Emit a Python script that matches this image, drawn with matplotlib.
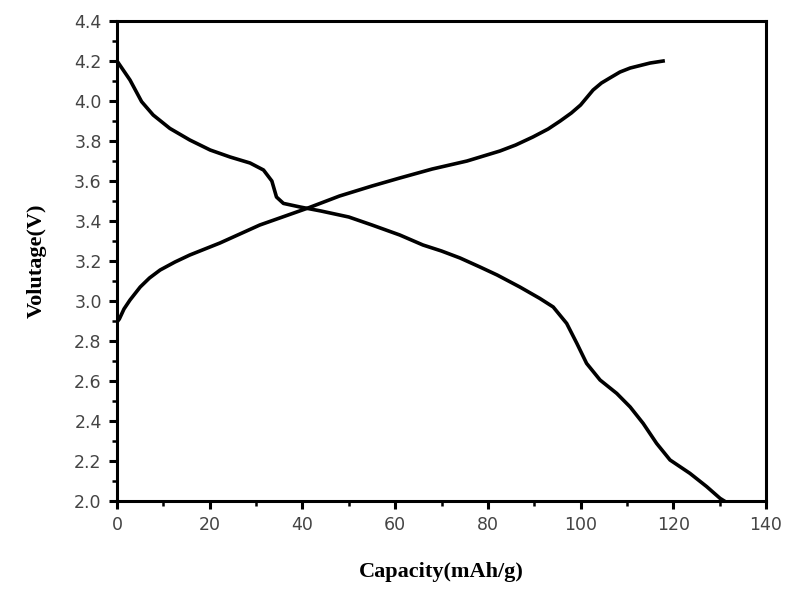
import matplotlib.pyplot as plt
from matplotlib.ticker import MultipleLocator

# charge curve (rising)
charge_cap = [0, 0.5, 1.5, 2.8, 5, 7, 9.3, 12.5, 15.7, 22.2, 30.8, 41.2, 48, 55, 61,
              68, 75.5, 82.6, 86, 89.7, 93, 95.6, 98, 100, 102.7, 104.5, 106.3,
              108.5, 110.7, 115, 117.8]
charge_v = [2.895, 2.91, 2.96, 3.005, 3.07, 3.115, 3.155, 3.195, 3.23, 3.29, 3.38,
            3.465, 3.525, 3.575, 3.615, 3.66, 3.70, 3.75, 3.78, 3.82, 3.86, 3.90,
            3.94, 3.98, 4.055, 4.09, 4.115, 4.145, 4.165, 4.19, 4.20]

# discharge curve (falling)
dis_cap = [0, 0.3, 2.8, 5.3, 7.8, 11.4, 15.7, 20.1, 24.4, 28.7, 31.6, 33.4, 34.4,
           35.9, 39.5, 44, 50, 55, 61, 66, 70, 74, 78.3, 82, 86.9, 91.2, 94.1, 97,
           99.2, 101.3, 104.2, 107.8, 110.7, 113.5, 116.4, 119.3, 123.6, 127.2,
           130.1, 131]
dis_v = [4.20, 4.19, 4.105, 3.997, 3.93, 3.863, 3.805, 3.755, 3.72, 3.69, 3.655,
         3.60, 3.52, 3.488, 3.47, 3.45, 3.42, 3.38, 3.33, 3.28, 3.25, 3.215, 3.17,
         3.13, 3.07, 3.013, 2.97, 2.888, 2.788, 2.688, 2.605, 2.538, 2.47, 2.388,
         2.288, 2.205, 2.138, 2.072, 2.013, 2.0]

fig = plt.figure(figsize=(7.87, 5.94), dpi=100)
ax = fig.add_axes([0.1487, 0.1566, 0.8246, 0.808])

ax.plot(charge_cap, charge_v, color='black', lw=2.6, solid_joinstyle='round')
ax.plot(dis_cap, dis_v, color='black', lw=2.6, solid_joinstyle='round')

ax.set_xlim(0, 140)
ax.set_ylim(2.0, 4.4)
ax.xaxis.set_major_locator(MultipleLocator(20))
ax.xaxis.set_minor_locator(MultipleLocator(10))
ax.yaxis.set_major_locator(MultipleLocator(0.2))
ax.yaxis.set_minor_locator(MultipleLocator(0.1))
ax.yaxis.set_major_formatter(plt.FormatStrFormatter('%.1f'))

for s in ax.spines.values():
    s.set_linewidth(2.2)
ax.tick_params(which='major', direction='out', length=6, width=2.2,
               labelsize=12.5, labelcolor='#444444', pad=5)
ax.tick_params(which='minor', direction='out', length=3.5, width=1.8)
for lab in ax.get_xticklabels() + ax.get_yticklabels():
    lab.set_family('DejaVu Sans')

ax.set_xlabel('Capacity(mAh/g)', fontsize=16, fontweight='bold',
              family='Liberation Serif', labelpad=20)
ax.set_ylabel('Volutage(V)', fontsize=16, fontweight='bold',
              family='Liberation Serif', labelpad=20)

fig.savefig('out.png', dpi=100)
